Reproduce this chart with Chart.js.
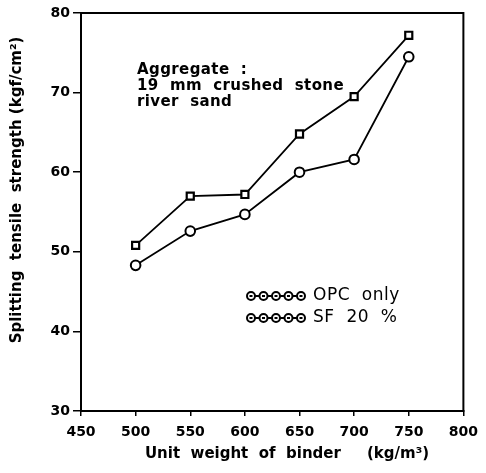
<!DOCTYPE html>
<html><head><meta charset="utf-8">
<script src="https://cdn.jsdelivr.net/npm/chart.js@4/dist/chart.umd.min.js"></script>
<style>html,body{margin:0;padding:0;background:#fff}#wrap{width:486px;height:473px}</style>
</head><body><div id="wrap"><canvas id="c" width="486" height="473"></canvas></div>
<script>
const binder = [500, 550, 600, 650, 700, 750];
const opcOnly = [48.3, 52.6, 54.7, 60.0, 61.6, 74.5];
const sf20 = [50.8, 57.0, 57.2, 64.8, 69.5, 77.2];
const xTicks = [450, 500, 550, 600, 650, 700, 750, 800];
const yTicks = [30, 40, 50, 60, 70, 80];
const seriesNames = ['OPC  only', 'SF  20  %'];
const noteLines = ['Aggregate  :', '19  mm  crushed  stone', 'river  sand'];
const xTitle = 'Unit  weight  of  binder     (kg/m\u00B3)';
const yTitle = 'Splitting  tensile  strength (kgf/cm\u00B2)';

const FONT = 'DejaVu Sans';

const deco = {
  id: 'deco',
  afterDraw(chart) {
    const ctx = chart.ctx, a = chart.chartArea;
    ctx.save();
    ctx.strokeStyle = '#000'; ctx.lineWidth = 2;
    ctx.strokeRect(a.left, a.top, a.right - a.left, a.bottom - a.top);
    ctx.fillStyle = '#000';
    // note
    ctx.font = 'bold 15px "DejaVu Sans"';
    ctx.letterSpacing = '0.4px';
    ctx.textBaseline = 'middle'; ctx.textAlign = 'left';
    noteLines.forEach((t, i) => ctx.fillText(t, 137, 70 + i * 16));
    ctx.letterSpacing = '0px';
    // legend
    const rows = [{y: 296}, {y: 318}];
    rows.forEach((r, i) => {
      ctx.lineWidth = 2;
      ctx.beginPath(); ctx.moveTo(250, r.y); ctx.lineTo(302, r.y); ctx.stroke();
      for (let k = 0; k < 5; k++) {
        const cx = 251 + k * 12.5;
        ctx.beginPath(); ctx.arc(cx, r.y, 4, 0, Math.PI * 2);
        ctx.fillStyle = '#fff'; ctx.fill(); ctx.stroke();
        ctx.fillStyle = '#000';
        ctx.fillRect(cx - 1.5, r.y - 1, 3, 2);
      }
      ctx.fillStyle = '#000';
      ctx.font = '17px "DejaVu Sans"';
      ctx.letterSpacing = '0.5px';
      ctx.fillText(seriesNames[i], 313, r.y);
      ctx.letterSpacing = '0px';
    });
    // titles
    ctx.font = 'bold 15px "DejaVu Sans"';
    ctx.textAlign = 'center';
    ctx.fillText(xTitle, 287, 454);
    ctx.translate(17, 190); ctx.rotate(-Math.PI / 2);
    ctx.fillText(yTitle, 0, 0);
    ctx.restore();
  }
};

new Chart(document.getElementById('c'), {
  type: 'line',
  data: {
    datasets: [
      { label: seriesNames[0], data: binder.map((x, i) => ({x, y: opcOnly[i]})),
        borderColor: '#000', borderWidth: 1.8, pointStyle: 'circle', pointRadius: 4.8,
        pointBackgroundColor: '#fff', pointBorderColor: '#000', pointBorderWidth: 2, tension: 0 },
      { label: seriesNames[1], data: binder.map((x, i) => ({x, y: sf20[i]})),
        borderColor: '#000', borderWidth: 1.8, pointStyle: 'rect', pointRadius: 5,
        pointBackgroundColor: '#fff', pointBorderColor: '#000', pointBorderWidth: 2.2, tension: 0 }
    ]
  },
  options: {
    responsive: false, animation: false, devicePixelRatio: 1,
    layout: { padding: { top: 13, right: 13, left: 0, bottom: 0 } },
    plugins: { legend: { display: false }, tooltip: { enabled: false } },
    scales: {
      x: { type: 'linear', min: 450, max: 800,
        afterBuildTicks: s => { s.ticks = xTicks.map(v => ({value: v})); },
        afterFit: s => { s.height = 62; },
        grid: { drawOnChartArea: false, drawTicks: true, tickLength: 5, color: '#000', lineWidth: 1.5 },
        border: { display: true, color: '#000', width: 2 },
        ticks: { color: '#000', padding: 8, font: { family: FONT, weight: 'bold', size: 14 }, maxRotation: 0 } },
      y: { type: 'linear', min: 30, max: 80,
        afterBuildTicks: s => { s.ticks = yTicks.map(v => ({value: v})); },
        afterFit: s => { s.width = 81; },
        grid: { drawOnChartArea: false, drawTicks: true, tickLength: 8, color: '#000', lineWidth: 1.5 },
        border: { display: true, color: '#000', width: 2 },
        ticks: { color: '#000', padding: 3, font: { family: FONT, weight: 'bold', size: 14 } } }
    }
  },
  plugins: [deco]
});
</script></body></html>
